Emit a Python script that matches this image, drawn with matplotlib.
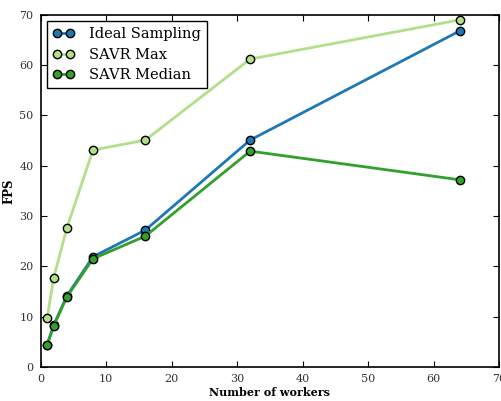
import matplotlib
matplotlib.use("Agg")
import matplotlib.pyplot as plt

workers = [1, 2, 4, 8, 16, 32, 64]
ideal = [4.4, 8.3, 14.1, 21.9, 27.2, 45.1, 66.8]
savr_max = [9.7, 17.7, 27.6, 43.1, 45.1, 61.2, 69.0]
savr_median = [4.4, 8.1, 13.9, 21.5, 26.0, 42.9, 37.2]

plt.rcParams['font.family'] = ['DejaVu Serif']

fig = plt.figure(figsize=(5.01, 4.01), dpi=100)
ax = fig.add_axes([0.081, 0.085, 0.915, 0.878])

kw = dict(marker='o', markersize=6, markeredgecolor='black', markeredgewidth=1, linewidth=2)
ax.plot(workers, ideal, color='#1f78b4', label='Ideal Sampling', **kw)
ax.plot(workers, savr_max, color='#b2df8a', label='SAVR Max', **kw)
ax.plot(workers, savr_median, color='#33a02c', label='SAVR Median', **kw)

ax.set_xlim(0, 70)
ax.set_ylim(0, 70)
ax.set_xticks(range(0, 71, 10))
ax.set_yticks(range(0, 71, 10))
ax.tick_params(direction='in', top=True, right=True, labelsize=8, length=4, colors='black',
               labelcolor='#333333', pad=5)
for s in ax.spines.values():
    s.set_linewidth(1.2)
ax.set_xlabel('Number of workers', fontsize=8, fontweight='bold', labelpad=2)
ax.set_ylabel('FPS', fontsize=8.5, fontweight='bold', labelpad=3)

leg = ax.legend(loc='upper left', numpoints=2, fancybox=False, fontsize=10.5, edgecolor='black',
                framealpha=1, borderaxespad=0.45, handlelength=1.5, handletextpad=1.0,
                labelspacing=0.45)
leg.get_frame().set_linewidth(1.0)

fig.savefig('out.png', dpi=100)
